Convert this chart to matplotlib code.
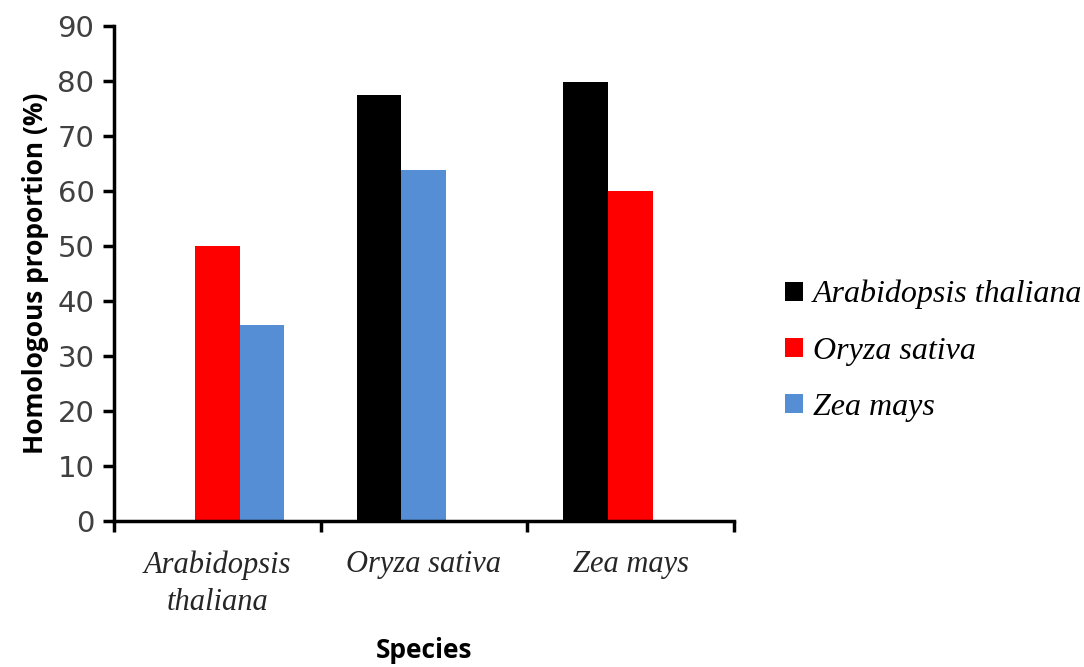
import matplotlib.pyplot as plt
import numpy as np

# homologous proportion of each query species against each reference genome
species = ['Arabidopsis\nthaliana', 'Oryza sativa', 'Zea mays']
series_names = ['Arabidopsis thaliana', 'Oryza sativa', 'Zea mays']
arabidopsis = [np.nan, 77.5, 79.8]
oryza = [50.0, np.nan, 60.0]
zea = [35.7, 63.8, np.nan]
colors = ['#000000', '#FF0000', '#558ED5']
# slot of each bar inside its group (-1 left, 0 middle, 1 right)
slots = [[-1, -1, -1], [0, 0, 0], [1, 0, 1]]

fig = plt.figure(figsize=(10.84, 6.67), dpi=100)
ax = fig.add_axes([0.105, 0.219, 0.572, 0.742])

x = np.arange(len(species))
w = 0.217
for vals, name, c, s in zip([arabidopsis, oryza, zea], series_names, colors, slots):
    ax.bar(x + np.array(s) * w, vals, width=w, color=c, linewidth=0, label=name)

ax.set_xlim(-0.5, 2.5)
ax.set_ylim(0, 90)
ax.set_yticks(range(0, 91, 10))
ax.set_yticklabels([str(v) for v in range(0, 91, 10)], fontsize=21, color='#404040',
                   family='DejaVu Sans')

# ticks sit between the categories, labels in the middle
ax.set_xticks([-0.5, 0.5, 1.5, 2.5])
ax.set_xticklabels([])
ax.set_xticks(x, minor=True)
ax.set_xticklabels(species, minor=True, family='Liberation Serif', style='italic',
                   fontsize=22, color='#262626', linespacing=1.4, va='top')
ax.tick_params(axis='x', which='minor', length=0, pad=21)
ax.tick_params(axis='x', which='major', length=8, width=2.5, direction='out')
ax.tick_params(axis='y', length=8, width=2.5, direction='out', pad=6)

for s in ['top', 'right']:
    ax.spines[s].set_visible(False)
for s in ['left', 'bottom']:
    ax.spines[s].set_linewidth(2.5)

ax.set_ylabel('Homologous proportion (%)', fontsize=19, fontweight='bold',
              family='Open Sans', labelpad=6)
ax.set_xlabel('Species', fontsize=19, fontweight='bold', family='Open Sans', labelpad=14)

fig.legend(loc='center left', bbox_to_anchor=(0.698, 0.474), frameon=False,
           prop={'family': 'Liberation Serif', 'style': 'italic', 'size': 23},
           handlelength=0.55, handleheight=0.55, handletextpad=0.3,
           labelspacing=0.85)

fig.savefig('out.png', dpi=100)
